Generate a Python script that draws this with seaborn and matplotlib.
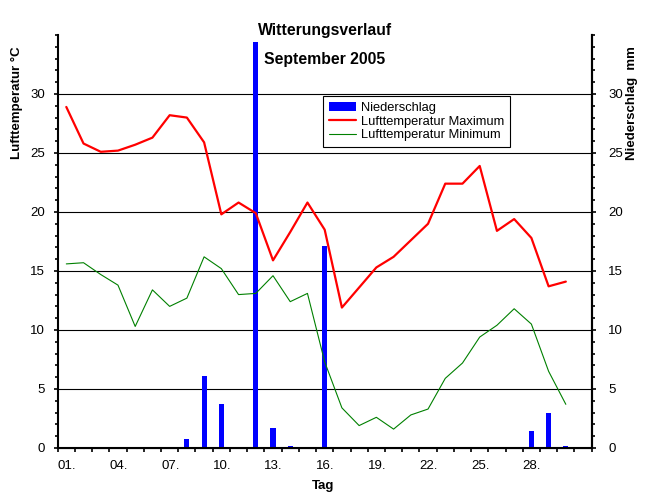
import matplotlib
matplotlib.use("Agg")
import matplotlib.pyplot as plt
from matplotlib.patches import Patch
from matplotlib.lines import Line2D
import pandas as pd
import seaborn as sns

# Witterungsverlauf September 2005
days = list(range(1, 31))
tmax = [28.9, 25.8, 25.1, 25.2, 25.7, 26.3, 28.2, 28.0, 25.9, 19.8,
        20.8, 19.9, 15.9, 18.3, 20.8, 18.5, 11.9, 13.6, 15.3, 16.2,
        17.6, 19.0, 22.4, 22.4, 23.9, 18.4, 19.4, 17.8, 13.7, 14.1]
tmin = [15.6, 15.7, 14.7, 13.8, 10.3, 13.4, 12.0, 12.7, 16.2, 15.2,
        13.0, 13.1, 14.6, 12.4, 13.1, 7.3, 3.4, 1.9, 2.6, 1.6,
        2.8, 3.3, 5.9, 7.2, 9.4, 10.4, 11.8, 10.5, 6.5, 3.7]
precip = [0, 0, 0, 0, 0, 0, 0, 0.8, 6.1, 3.7,
          0, 34.4, 1.7, 0.2, 0, 17.1, 0, 0, 0, 0,
          0, 0, 0, 0, 0, 0, 0, 1.4, 3.0, 0.2]
labels = ["Niederschlag", "Lufttemperatur Maximum", "Lufttemperatur Minimum"]

df = pd.DataFrame({"day": days, "tmax": tmax, "tmin": tmin, "precip": precip})

sns.set_style("ticks", {"axes.edgecolor": "black", "xtick.color": "black",
                        "ytick.color": "black", "text.color": "black",
                        "axes.labelcolor": "black"})
plt.rcParams["font.family"] = ["Liberation Sans", "DejaVu Sans"]

fig = plt.figure(figsize=(6.46, 5.01), dpi=100)
ax = fig.add_axes([0.0893, 0.1058, 0.8266, 0.8244])

sns.barplot(data=df, x="day", y="precip", native_scale=True, width=0.3,
            color="#0000ff", saturation=1, linewidth=0, errorbar=None,
            ax=ax, zorder=2)
sns.lineplot(data=df, x="day", y="tmax", color="#ff0000", linewidth=1.6,
             ax=ax, zorder=3)
sns.lineplot(data=df, x="day", y="tmin", color="#008000", linewidth=0.8,
             ax=ax, zorder=3)

ax.set_xlim(0.5, 31.5)
ax.set_ylim(0, 35)

# x ticks at day boundaries, labels every third day
xt = [d + 0.5 for d in range(32)]
xl = [f"{i + 1:02d}." if i % 3 == 0 and i <= 27 else "" for i in range(32)]
ax.set_xticks(xt)
ax.set_xticklabels(xl, ha="left", fontsize=9.5)
ax.tick_params(axis="x", length=3, width=1.2, pad=6)

ax.set_yticks(range(0, 31, 5))
ax.set_yticks(range(0, 36), minor=True)
ax.tick_params(axis="y", which="major", length=3, width=1.2, pad=6, labelsize=9.5)
ax.tick_params(axis="y", which="minor", length=2.2, width=1.2)
ax.yaxis.grid(True, color="black", linewidth=0.8)
ax.set_axisbelow(True)

for s in ["left", "bottom", "right"]:
    ax.spines[s].set_linewidth(1.5)
ax.spines["top"].set_visible(False)

ax2 = ax.twinx()
ax2.set_ylim(ax.get_ylim())
ax2.set_yticks(range(0, 31, 5))
ax2.set_yticks(range(0, 36), minor=True)
ax2.tick_params(axis="y", which="major", length=3, width=1.2, pad=9, labelsize=9.5)
ax2.tick_params(axis="y", which="minor", length=2.2, width=1.2)
ax2.spines["top"].set_visible(False)
ax2.spines["right"].set_linewidth(1.5)
ax2.spines["left"].set_visible(False)

ax.set_xlabel("Tag", fontsize=9.5, fontweight="bold")
ax.xaxis.set_label_coords(0.497, -0.077)
ax.set_ylabel("Lufttemperatur °C", fontsize=9.5, fontweight="bold")
ax.yaxis.label.set(va="center", ha="center")
ax.yaxis.set_label_coords(-0.077, 0.835)
ax2.set_ylabel("Niederschlag  mm", fontsize=9.5, fontweight="bold", rotation=90)
ax2.yaxis.label.set(va="center", ha="center")
ax2.yaxis.set_label_coords(1.076, 0.835)

fig.text(0.5026, 1 - 31 / 501, "Witterungsverlauf", ha="center", va="center",
         fontsize=11.3, fontweight="bold")
ax.text(0.5, 0.94, "September 2005", transform=ax.transAxes, ha="center",
        va="center", fontsize=11.3, fontweight="bold")

handles = [Patch(facecolor="#0000ff", edgecolor="none"),
           Line2D([], [], color="#ff0000", linewidth=1.6),
           Line2D([], [], color="#008000", linewidth=0.8)]
leg = ax.legend(handles, labels, loc="upper left", bbox_to_anchor=(0.497, 0.852),
                borderaxespad=0, fancybox=False, edgecolor="black", framealpha=1,
                fontsize=9.3, handlelength=2.1, handletextpad=0.35,
                labelspacing=0.12, borderpad=0.45)
leg.get_frame().set_linewidth(0.8)

fig.savefig("out.png", dpi=100)
